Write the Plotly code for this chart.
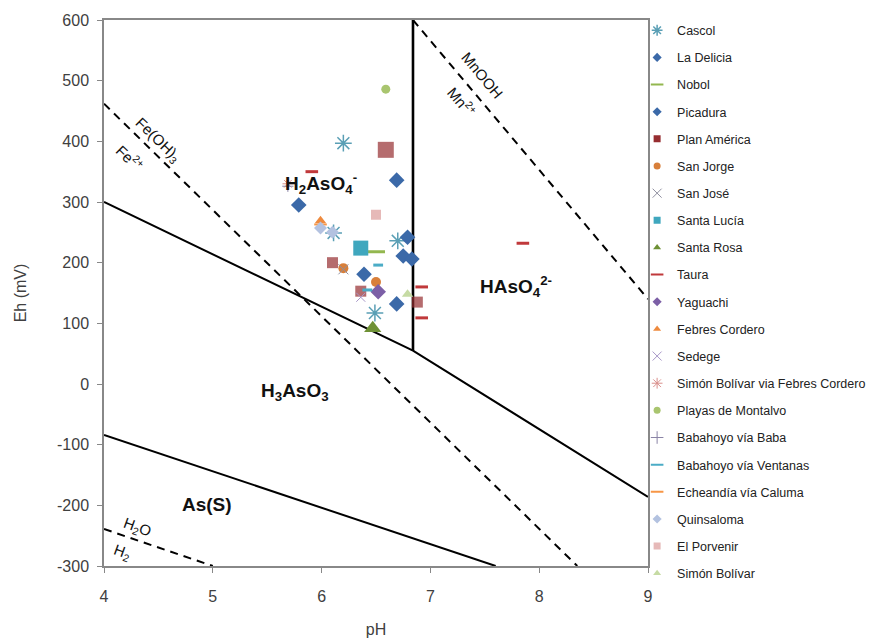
import plotly.graph_objects as go

# ---------------- data ----------------
cascol_ph = [6.20, 6.11, 6.70, 6.49]
cascol_eh = [397, 249, 236, 117]
ladelicia_ph = [6.69, 6.79, 6.75]
ladelicia_eh = [336, 242, 211]
nobol_ph = [6.48]
nobol_eh = [218]
picadura_ph = [5.79, 6.83, 6.39, 6.69]
picadura_eh = [295, 206, 181, 132]
planamerica_ph = [6.59, 6.10, 6.36, 6.88]
planamerica_eh = [386, 200, 153, 135]
sanjorge_ph = [6.20, 6.50]
sanjorge_eh = [191, 168]
sanjose_ph = [6.20]
sanjose_eh = [189]
santalucia_ph = [6.36]
santalucia_eh = [224]
santarosa_ph = [6.47]
santarosa_eh = [92]
taura_ph = [5.91, 7.85, 6.92, 6.92]
taura_eh = [350, 232, 160, 109]
yaguachi_ph = [6.52]
yaguachi_eh = [152]
febres_ph = [5.99]
febres_eh = [269]
sedege_ph = [6.36]
sedege_eh = [143]
sbfebres_ph = [5.69]
sbfebres_eh = [330]
playas_ph = [6.59]
playas_eh = [486]
bababa_ph = [5.69]
bababa_eh = [326]
baventanas_ph = [6.52, 6.42]
baventanas_eh = [196, 155]
echeandia_ph = [5.99]
echeandia_eh = [263]
quinsaloma_ph = [5.99, 6.10]
quinsaloma_eh = [257, 250]
porvenir_ph = [6.50]
porvenir_eh = [279]
simonbolivar_ph = [6.79]
simonbolivar_eh = [148]

# boundary lines (pH, Eh)
b1_ph = [4, 6.84, 9]
b1_eh = [300, 55, -186]
b2_ph = [6.84, 6.84]
b2_eh = [55, 600]
b3_ph = [4, 7.6]
b3_eh = [-84, -300]
fe_ph = [4, 8.35]
fe_eh = [462, -300]
mn_ph = [6.84, 9]
mn_eh = [600, 140]
h2o_ph = [4, 5.0]
h2o_eh = [-239, -300]

x_ticks = [4, 5, 6, 7, 8, 9]
y_ticks = [-300, -200, -100, 0, 100, 200, 300, 400, 500, 600]
y_tick_labels = [str(v) for v in y_ticks]

FONT = "Liberation Sans, Arial, sans-serif"

fig = go.Figure()

# boundary lines
for xs, ys, dash, w in [
    (b1_ph, b1_eh, "solid", 2),
    (b2_ph, b2_eh, "solid", 2.6),
    (b3_ph, b3_eh, "solid", 2),
    (fe_ph, fe_eh, "8px,6px", 2),
    (mn_ph, mn_eh, "8px,6px", 2),
    (h2o_ph, h2o_eh, "8px,6px", 2),
]:
    fig.add_trace(go.Scatter(x=xs, y=ys, mode="lines", showlegend=False,
                             hoverinfo="skip",
                             line=dict(color="black", width=w, dash=dash)))

series = [
    ("Cascol", cascol_ph, cascol_eh, "asterisk-open", "#5A9FB5", 14, 1.5),
    ("La Delicia", ladelicia_ph, ladelicia_eh, "diamond", "#3B69A8", 12, 0),
    ("Nobol", nobol_ph, nobol_eh, "line-ew-open", "#93B74F", 16, 3),
    ("Picadura", picadura_ph, picadura_eh, "diamond", "#3B69A8", 12, 0),
    ("Plan América", planamerica_ph, planamerica_eh, "square", "#962D30", [16, 11, 11, 11], 0),
    ("San Jorge", sanjorge_ph, sanjorge_eh, "circle", "#D87F3A", 10, 0),
    ("San José", sanjose_ph, sanjose_eh, "x-thin-open", "#8F8F9F", 10, 1),
    ("Santa Lucía", santalucia_ph, santalucia_eh, "square", "#3FA7BE", 15, 0),
    ("Santa Rosa", santarosa_ph, santarosa_eh, "triangle-up", "#6E9135", 15, 0),
    ("Taura", taura_ph, taura_eh, "line-ew-open", "#C0393B", 9, 3),
    ("Yaguachi", yaguachi_ph, yaguachi_eh, "diamond", "#7C5FA6", 12, 0),
    ("Febres Cordero", febres_ph, febres_eh, "triangle-up", "#EE8A3E", 10, 0),
    ("Sedege", sedege_ph, sedege_eh, "x-thin-open", "#A897C8", 9, 1),
    ("Simón Bolívar via Febres Cordero", sbfebres_ph, sbfebres_eh, "asterisk-open", "#D98F8C", 9, 1),
    ("Playas de Montalvo", playas_ph, playas_eh, "circle", "#A9C56F", 9, 0),
    ("Babahoyo vía Baba", bababa_ph, bababa_eh, "cross-thin-open", "#8A84A6", 8, 1),
    ("Babahoyo vía Ventanas", baventanas_ph, baventanas_eh, "line-ew-open", "#4BACC6", 7, 3),
    ("Echeandía vía Caluma", echeandia_ph, echeandia_eh, "line-ew-open", "#F79646", 9, 2),
    ("Quinsaloma", quinsaloma_ph, quinsaloma_eh, "diamond", "#B3C2E0", 10, 0),
    ("El Porvenir", porvenir_ph, porvenir_eh, "square", "#E6B9B8", 10, 0),
    ("Simón Bolívar", simonbolivar_ph, simonbolivar_eh, "triangle-up", "#C6DBA4", 10, 0),
]

for i, (name, xs, ys, sym, col, size, lw) in enumerate(series):
    fig.add_trace(go.Scatter(x=xs, y=ys, mode="markers", name=name,
                             showlegend=False,
                             marker=dict(symbol=sym, color=col, size=size,
                                         line=dict(color=col, width=lw))))
# small legend symbols, as in the reference legend
for i, (name, xs, ys, sym, col, size, lw) in enumerate(series):
    lsize = 9 if "line-ew" in sym or "asterisk" in sym or "thin" in sym else 7
    fig.add_trace(go.Scatter(x=[None], y=[None], mode="markers", name=name,
                             legendgroup="g%d" % i,
                             marker=dict(symbol=sym, color=col, size=lsize,
                                         line=dict(color=col, width=min(lw, 2) if lw else 0))))

# region labels
ann = [
    (5.99, 331, "H<sub>2</sub>AsO<sub>4</sub><sup>-</sup>", 19, True, 0),
    (7.79, 160, "HAsO<sub>4</sub><sup>2-</sup>", 19, True, 0),
    (5.76, -13, "H<sub>3</sub>AsO<sub>3</sub>", 19, True, 0),
    (4.95, -199, "As(S)", 19, True, 0),
    (4.50, 402, "Fe(OH)<sub>3</sub>", 15, False, 44),
    (4.24, 373, "Fe<sup>2+</sup>", 15, False, 44),
    (7.48, 509, "MnOOH", 15, False, 50),
    (7.29, 465, "Mn<sup>2+</sup>", 15, False, 50),
    (4.30, -237, "H<sub>2</sub>O", 15, False, 20),
    (4.17, -277, "H<sub>2</sub>", 15, False, 20),
]
for x, y, t, fs, bold, ang in ann:
    fig.add_annotation(x=x, y=y, text=("<b>%s</b>" % t) if bold else t,
                       showarrow=False, textangle=ang,
                       font=dict(family=FONT, size=fs, color="#111111"))

# page body adds an ~8px offset, so the figure is sized to compensate
fig.update_layout(
    width=874, height=635,
    margin=dict(l=96, r=234, t=12, b=77, autoexpand=False),
    paper_bgcolor="white", plot_bgcolor="white",
    font=dict(family=FONT, color="#404040"),
    legend=dict(x=0.98, xanchor="left", y=1.008, yanchor="top",
                font=dict(family=FONT, size=12.5, color="#222222"),
                tracegroupgap=7.9, itemwidth=30, maxheight=1.0,
                bgcolor="rgba(0,0,0,0)"),
    showlegend=True,
)
fig.update_xaxes(range=[4, 9], tickvals=x_ticks, ticks="outside", ticklen=5,
                 tickcolor="#888", showline=True, linecolor="#888", linewidth=1.5,
                 mirror=True, showgrid=False, zeroline=False, ticklabelstandoff=10,
                 tickfont=dict(size=16, color="#404040"),
                 title=dict(text="pH", font=dict(size=16, color="#404040"), standoff=20))
fig.update_yaxes(range=[-300, 600], tickvals=y_ticks, ticktext=y_tick_labels,
                 ticks="outside", ticklen=5, ticklabelstandoff=5,
                 tickcolor="#888", showline=True, linecolor="#888", linewidth=1.5,
                 mirror=True, showgrid=False, zeroline=False,
                 tickfont=dict(size=16, color="#404040"),
                 title=dict(text="Eh (mV)", font=dict(size=16, color="#404040"), standoff=26))

fig.write_html("out.html")
